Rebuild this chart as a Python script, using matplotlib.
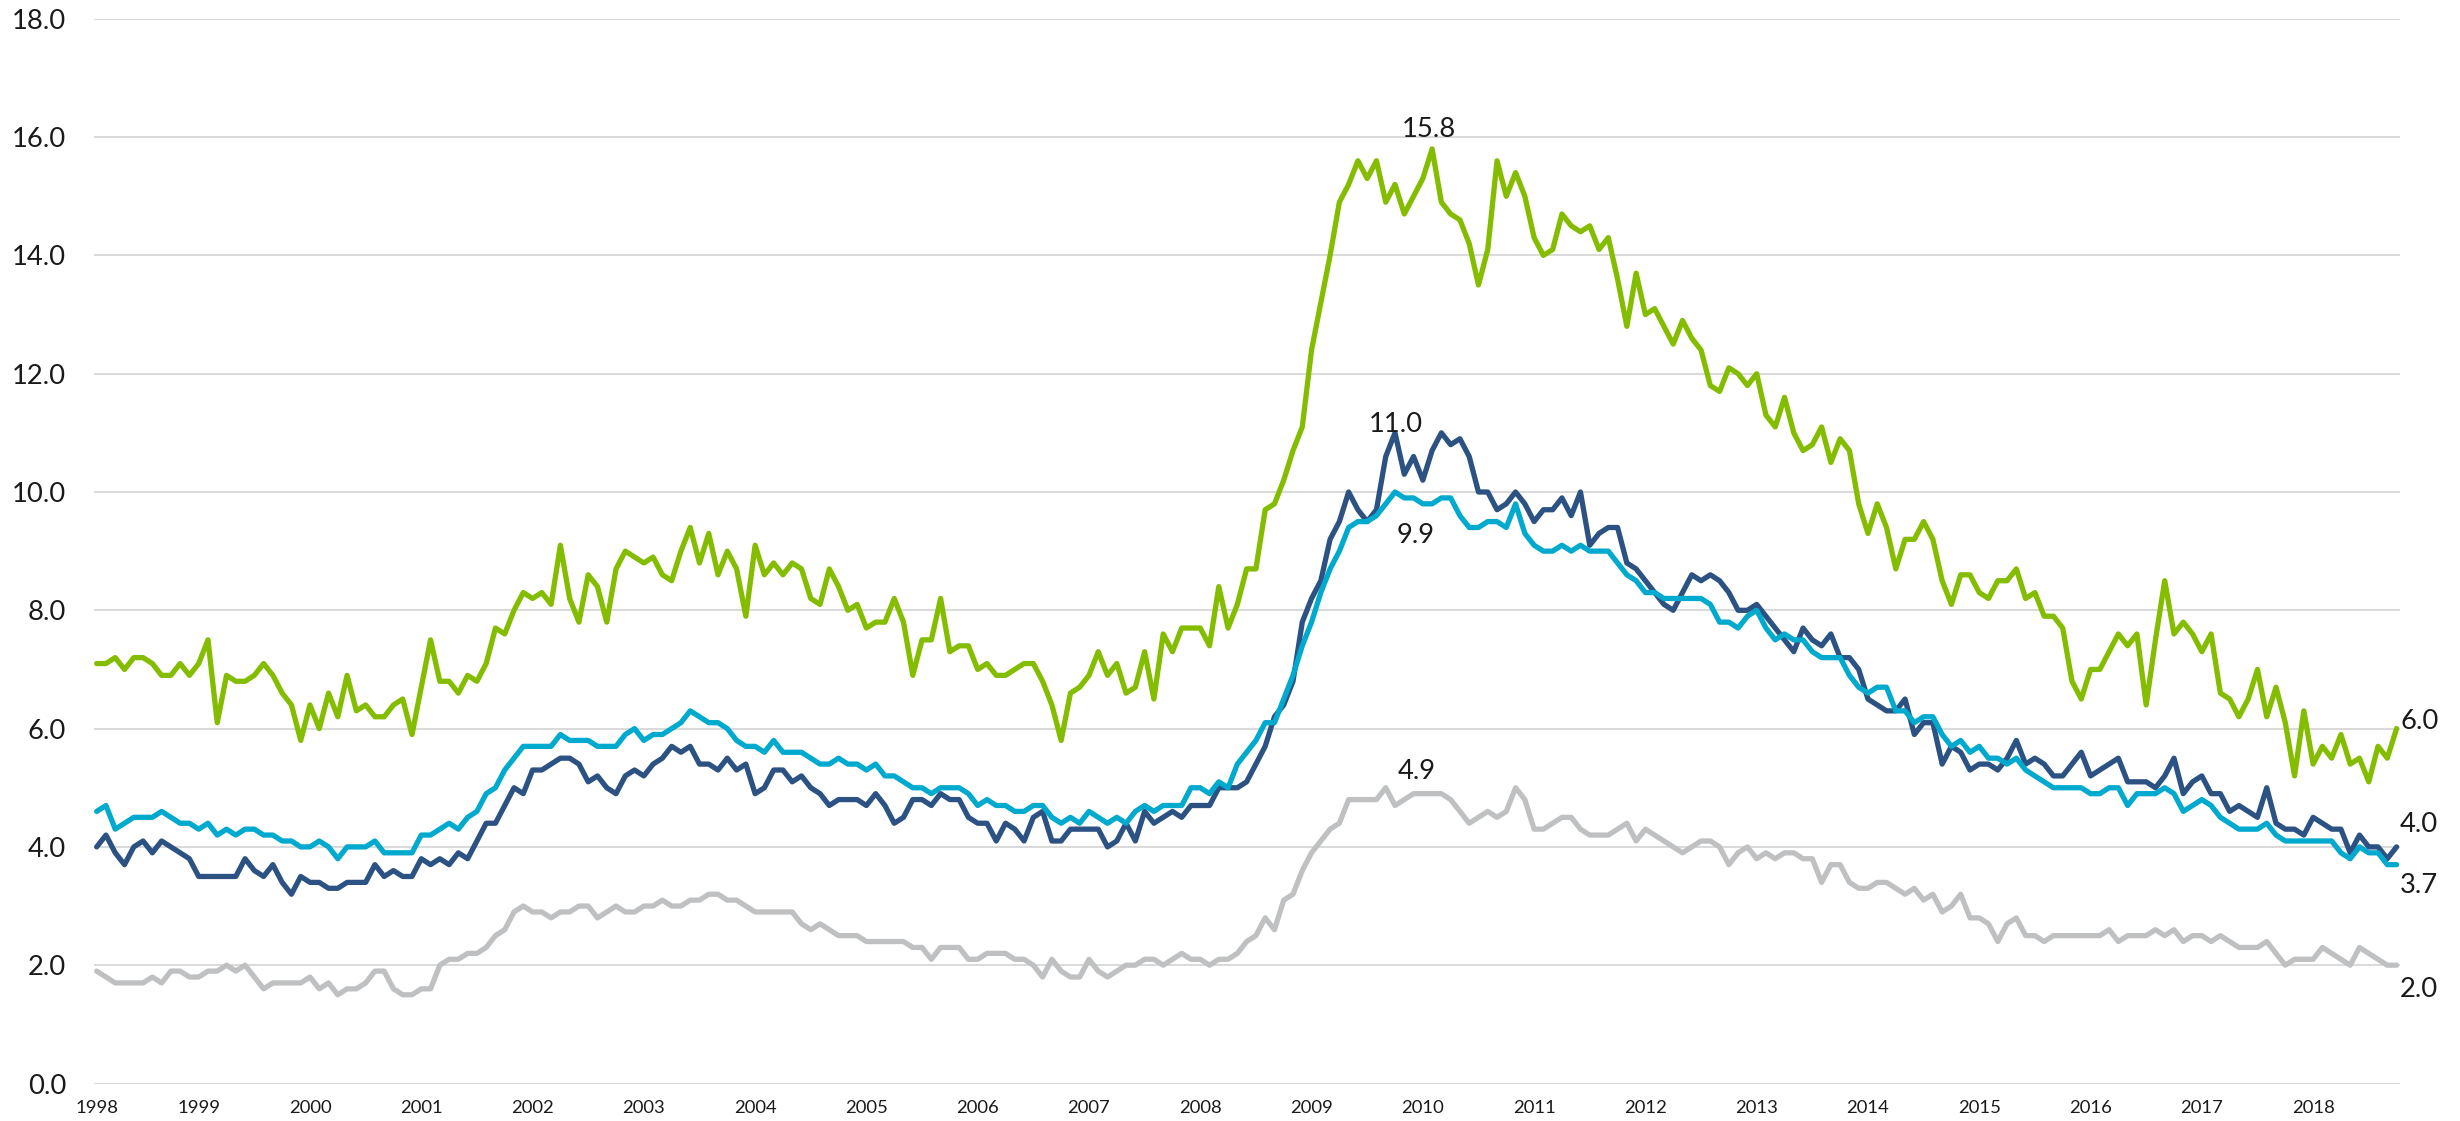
import matplotlib
matplotlib.use("Agg")
import matplotlib.pyplot as plt
import numpy as np

plt.rcParams['font.family'] = ['Lato', 'DejaVu Sans']

# ---- data (monthly, first point = start of 1998) ----
years = [str(y) for y in range(1998, 2019)]
year_tick_idx = [0] + [11 + 12 * k for k in range(20)]

green = [
    7.1, 7.1, 7.2, 7.0, 7.2, 7.2, 7.1, 6.9, 6.9, 7.1, 6.9, 7.1,
    7.5, 6.1, 6.9, 6.8, 6.8, 6.9, 7.1, 6.9, 6.6, 6.4, 5.8, 6.4,
    6.0, 6.6, 6.2, 6.9, 6.3, 6.4, 6.2, 6.2, 6.4, 6.5, 5.9, 6.7,
    7.5, 6.8, 6.8, 6.6, 6.9, 6.8, 7.1, 7.7, 7.6, 8.0, 8.3, 8.2,
    8.3, 8.1, 9.1, 8.2, 7.8, 8.6, 8.4, 7.8, 8.7, 9.0, 8.9, 8.8,
    8.9, 8.6, 8.5, 9.0, 9.4, 8.8, 9.3, 8.6, 9.0, 8.7, 7.9, 9.1,
    8.6, 8.8, 8.6, 8.8, 8.7, 8.2, 8.1, 8.7, 8.4, 8.0, 8.1, 7.7,
    7.8, 7.8, 8.2, 7.8, 6.9, 7.5, 7.5, 8.2, 7.3, 7.4, 7.4, 7.0,
    7.1, 6.9, 6.9, 7.0, 7.1, 7.1, 6.8, 6.4, 5.8, 6.6, 6.7, 6.9,
    7.3, 6.9, 7.1, 6.6, 6.7, 7.3, 6.5, 7.6, 7.3, 7.7, 7.7, 7.7,
    7.4, 8.4, 7.7, 8.1, 8.7, 8.7, 9.7, 9.8, 10.2, 10.7, 11.1, 12.4,
    13.2, 14.0, 14.9, 15.2, 15.6, 15.3, 15.6, 14.9, 15.2, 14.7, 15.0, 15.3,
    15.8, 14.9, 14.7, 14.6, 14.2, 13.5, 14.1, 15.6, 15.0, 15.4, 15.0, 14.3,
    14.0, 14.1, 14.7, 14.5, 14.4, 14.5, 14.1, 14.3, 13.6, 12.8, 13.7, 13.0,
    13.1, 12.8, 12.5, 12.9, 12.6, 12.4, 11.8, 11.7, 12.1, 12.0, 11.8, 12.0,
    11.3, 11.1, 11.6, 11.0, 10.7, 10.8, 11.1, 10.5, 10.9, 10.7, 9.8, 9.3,
    9.8, 9.4, 8.7, 9.2, 9.2, 9.5, 9.2, 8.5, 8.1, 8.6, 8.6, 8.3,
    8.2, 8.5, 8.5, 8.7, 8.2, 8.3, 7.9, 7.9, 7.7, 6.8, 6.5, 7.0,
    7.0, 7.3, 7.6, 7.4, 7.6, 6.4, 7.5, 8.5, 7.6, 7.8, 7.6, 7.3,
    7.6, 6.6, 6.5, 6.2, 6.5, 7.0, 6.2, 6.7, 6.1, 5.2, 6.3, 5.4,
    5.7, 5.5, 5.9, 5.4, 5.5, 5.1, 5.7, 5.5, 6.0,
]

navy = [
    4.0, 4.2, 3.9, 3.7, 4.0, 4.1, 3.9, 4.1, 4.0, 3.9, 3.8, 3.5,
    3.5, 3.5, 3.5, 3.5, 3.8, 3.6, 3.5, 3.7, 3.4, 3.2, 3.5, 3.4,
    3.4, 3.3, 3.3, 3.4, 3.4, 3.4, 3.7, 3.5, 3.6, 3.5, 3.5, 3.8,
    3.7, 3.8, 3.7, 3.9, 3.8, 4.1, 4.4, 4.4, 4.7, 5.0, 4.9, 5.3,
    5.3, 5.4, 5.5, 5.5, 5.4, 5.1, 5.2, 5.0, 4.9, 5.2, 5.3, 5.2,
    5.4, 5.5, 5.7, 5.6, 5.7, 5.4, 5.4, 5.3, 5.5, 5.3, 5.4, 4.9,
    5.0, 5.3, 5.3, 5.1, 5.2, 5.0, 4.9, 4.7, 4.8, 4.8, 4.8, 4.7,
    4.9, 4.7, 4.4, 4.5, 4.8, 4.8, 4.7, 4.9, 4.8, 4.8, 4.5, 4.4,
    4.4, 4.1, 4.4, 4.3, 4.1, 4.5, 4.6, 4.1, 4.1, 4.3, 4.3, 4.3,
    4.3, 4.0, 4.1, 4.4, 4.1, 4.6, 4.4, 4.5, 4.6, 4.5, 4.7, 4.7,
    4.7, 5.0, 5.0, 5.0, 5.1, 5.4, 5.7, 6.2, 6.4, 6.8, 7.8, 8.2,
    8.5, 9.2, 9.5, 10.0, 9.7, 9.5, 9.7, 10.6, 11.0, 10.3, 10.6, 10.2,
    10.7, 11.0, 10.8, 10.9, 10.6, 10.0, 10.0, 9.7, 9.8, 10.0, 9.8, 9.5,
    9.7, 9.7, 9.9, 9.6, 10.0, 9.1, 9.3, 9.4, 9.4, 8.8, 8.7, 8.5,
    8.3, 8.1, 8.0, 8.3, 8.6, 8.5, 8.6, 8.5, 8.3, 8.0, 8.0, 8.1,
    7.9, 7.7, 7.5, 7.3, 7.7, 7.5, 7.4, 7.6, 7.2, 7.2, 7.0, 6.5,
    6.4, 6.3, 6.3, 6.5, 5.9, 6.1, 6.1, 5.4, 5.7, 5.6, 5.3, 5.4,
    5.4, 5.3, 5.5, 5.8, 5.4, 5.5, 5.4, 5.2, 5.2, 5.4, 5.6, 5.2,
    5.3, 5.4, 5.5, 5.1, 5.1, 5.1, 5.0, 5.2, 5.5, 4.9, 5.1, 5.2,
    4.9, 4.9, 4.6, 4.7, 4.6, 4.5, 5.0, 4.4, 4.3, 4.3, 4.2, 4.5,
    4.4, 4.3, 4.3, 3.9, 4.2, 4.0, 4.0, 3.8, 4.0,
]

cyan = [
    4.6, 4.7, 4.3, 4.4, 4.5, 4.5, 4.5, 4.6, 4.5, 4.4, 4.4, 4.3,
    4.4, 4.2, 4.3, 4.2, 4.3, 4.3, 4.2, 4.2, 4.1, 4.1, 4.0, 4.0,
    4.1, 4.0, 3.8, 4.0, 4.0, 4.0, 4.1, 3.9, 3.9, 3.9, 3.9, 4.2,
    4.2, 4.3, 4.4, 4.3, 4.5, 4.6, 4.9, 5.0, 5.3, 5.5, 5.7, 5.7,
    5.7, 5.7, 5.9, 5.8, 5.8, 5.8, 5.7, 5.7, 5.7, 5.9, 6.0, 5.8,
    5.9, 5.9, 6.0, 6.1, 6.3, 6.2, 6.1, 6.1, 6.0, 5.8, 5.7, 5.7,
    5.6, 5.8, 5.6, 5.6, 5.6, 5.5, 5.4, 5.4, 5.5, 5.4, 5.4, 5.3,
    5.4, 5.2, 5.2, 5.1, 5.0, 5.0, 4.9, 5.0, 5.0, 5.0, 4.9, 4.7,
    4.8, 4.7, 4.7, 4.6, 4.6, 4.7, 4.7, 4.5, 4.4, 4.5, 4.4, 4.6,
    4.5, 4.4, 4.5, 4.4, 4.6, 4.7, 4.6, 4.7, 4.7, 4.7, 5.0, 5.0,
    4.9, 5.1, 5.0, 5.4, 5.6, 5.8, 6.1, 6.1, 6.5, 6.9, 7.4, 7.8,
    8.3, 8.7, 9.0, 9.4, 9.5, 9.5, 9.6, 9.8, 10.0, 9.9, 9.9, 9.8,
    9.8, 9.9, 9.9, 9.6, 9.4, 9.4, 9.5, 9.5, 9.4, 9.8, 9.3, 9.1,
    9.0, 9.0, 9.1, 9.0, 9.1, 9.0, 9.0, 9.0, 8.8, 8.6, 8.5, 8.3,
    8.3, 8.2, 8.2, 8.2, 8.2, 8.2, 8.1, 7.8, 7.8, 7.7, 7.9, 8.0,
    7.7, 7.5, 7.6, 7.5, 7.5, 7.3, 7.2, 7.2, 7.2, 6.9, 6.7, 6.6,
    6.7, 6.7, 6.3, 6.3, 6.1, 6.2, 6.2, 5.9, 5.7, 5.8, 5.6, 5.7,
    5.5, 5.5, 5.4, 5.5, 5.3, 5.2, 5.1, 5.0, 5.0, 5.0, 5.0, 4.9,
    4.9, 5.0, 5.0, 4.7, 4.9, 4.9, 4.9, 5.0, 4.9, 4.6, 4.7, 4.8,
    4.7, 4.5, 4.4, 4.3, 4.3, 4.3, 4.4, 4.2, 4.1, 4.1, 4.1, 4.1,
    4.1, 4.1, 3.9, 3.8, 4.0, 3.9, 3.9, 3.7, 3.7,
]

gray = [
    1.9, 1.8, 1.7, 1.7, 1.7, 1.7, 1.8, 1.7, 1.9, 1.9, 1.8, 1.8,
    1.9, 1.9, 2.0, 1.9, 2.0, 1.8, 1.6, 1.7, 1.7, 1.7, 1.7, 1.8,
    1.6, 1.7, 1.5, 1.6, 1.6, 1.7, 1.9, 1.9, 1.6, 1.5, 1.5, 1.6,
    1.6, 2.0, 2.1, 2.1, 2.2, 2.2, 2.3, 2.5, 2.6, 2.9, 3.0, 2.9,
    2.9, 2.8, 2.9, 2.9, 3.0, 3.0, 2.8, 2.9, 3.0, 2.9, 2.9, 3.0,
    3.0, 3.1, 3.0, 3.0, 3.1, 3.1, 3.2, 3.2, 3.1, 3.1, 3.0, 2.9,
    2.9, 2.9, 2.9, 2.9, 2.7, 2.6, 2.7, 2.6, 2.5, 2.5, 2.5, 2.4,
    2.4, 2.4, 2.4, 2.4, 2.3, 2.3, 2.1, 2.3, 2.3, 2.3, 2.1, 2.1,
    2.2, 2.2, 2.2, 2.1, 2.1, 2.0, 1.8, 2.1, 1.9, 1.8, 1.8, 2.1,
    1.9, 1.8, 1.9, 2.0, 2.0, 2.1, 2.1, 2.0, 2.1, 2.2, 2.1, 2.1,
    2.0, 2.1, 2.1, 2.2, 2.4, 2.5, 2.8, 2.6, 3.1, 3.2, 3.6, 3.9,
    4.1, 4.3, 4.4, 4.8, 4.8, 4.8, 4.8, 5.0, 4.7, 4.8, 4.9, 4.9,
    4.9, 4.9, 4.8, 4.6, 4.4, 4.5, 4.6, 4.5, 4.6, 5.0, 4.8, 4.3,
    4.3, 4.4, 4.5, 4.5, 4.3, 4.2, 4.2, 4.2, 4.3, 4.4, 4.1, 4.3,
    4.2, 4.1, 4.0, 3.9, 4.0, 4.1, 4.1, 4.0, 3.7, 3.9, 4.0, 3.8,
    3.9, 3.8, 3.9, 3.9, 3.8, 3.8, 3.4, 3.7, 3.7, 3.4, 3.3, 3.3,
    3.4, 3.4, 3.3, 3.2, 3.3, 3.1, 3.2, 2.9, 3.0, 3.2, 2.8, 2.8,
    2.7, 2.4, 2.7, 2.8, 2.5, 2.5, 2.4, 2.5, 2.5, 2.5, 2.5, 2.5,
    2.5, 2.6, 2.4, 2.5, 2.5, 2.5, 2.6, 2.5, 2.6, 2.4, 2.5, 2.5,
    2.4, 2.5, 2.4, 2.3, 2.3, 2.3, 2.4, 2.2, 2.0, 2.1, 2.1, 2.1,
    2.3, 2.2, 2.1, 2.0, 2.3, 2.2, 2.1, 2.0, 2.0,
]

y_ticks = [0, 2, 4, 6, 8, 10, 12, 14, 16, 18]

# annotations: (text, x index, baseline value, ha)
peak_labels = [
    ("15.8", 143.7, 16.0, "center"),
    ("11.0", 140.1, 11.02, "center"),
    ("9.9", 142.2, 9.13, "center"),
    ("4.9", 142.3, 5.14, "center"),
]
end_labels = [
    ("6.0", 5.99),
    ("4.0", 4.26),
    ("3.7", 3.22),
    ("2.0", 1.47),
]

C_GREEN = "#84BD00"
C_NAVY = "#2B5283"
C_CYAN = "#00A9CE"
C_GRAY = "#BFC0C2"
C_GRID = "#D9D9D9"
C_TEXT = "#1A1A1A"

W, H = 2460, 1121
fig = plt.figure(figsize=(W / 100, H / 100), dpi=100)
ax = fig.add_axes([94 / W, 1 - 1083.5 / H, 2306 / W, (1083.5 - 18.8) / H])

n = len(green)
x = np.arange(n)
lw = 3.8
ax.plot(x, gray, color=C_GRAY, lw=lw, solid_joinstyle="round", solid_capstyle="round", zorder=3)
ax.plot(x, navy, color=C_NAVY, lw=lw, solid_joinstyle="round", solid_capstyle="round", zorder=4)
ax.plot(x, cyan, color=C_CYAN, lw=lw, solid_joinstyle="round", solid_capstyle="round", zorder=5)
ax.plot(x, green, color=C_GREEN, lw=lw, solid_joinstyle="round", solid_capstyle="round", zorder=6)

ax.set_ylim(0, 18)
ax.set_xlim(-0.29, (n - 1) + 0.37)
ax.set_yticks(y_ticks)
ax.set_yticklabels([f"{v:.1f}" for v in y_ticks], fontsize=19.7, color=C_TEXT)
ax.set_xticks(year_tick_idx)
ax.set_xticklabels(years, fontsize=13.3, color=C_TEXT)
ax.tick_params(axis="y", length=0, pad=20)
ax.tick_params(axis="x", length=0, pad=12)
for s in ax.spines.values():
    s.set_visible(False)
ax.grid(axis="y", color=C_GRID, lw=1.4, zorder=0)
ax.set_axisbelow(True)

for txt, xi, yv, ha in peak_labels:
    ax.text(xi, yv, txt, ha=ha, va="baseline", fontsize=19.7, color=C_TEXT, zorder=7)
for txt, yv in end_labels:
    ax.text(n - 1 + 0.37, yv, txt, ha="left", va="baseline", fontsize=19.7,
            color=C_TEXT, clip_on=False, zorder=7)

fig.savefig("out.png", dpi=100)
